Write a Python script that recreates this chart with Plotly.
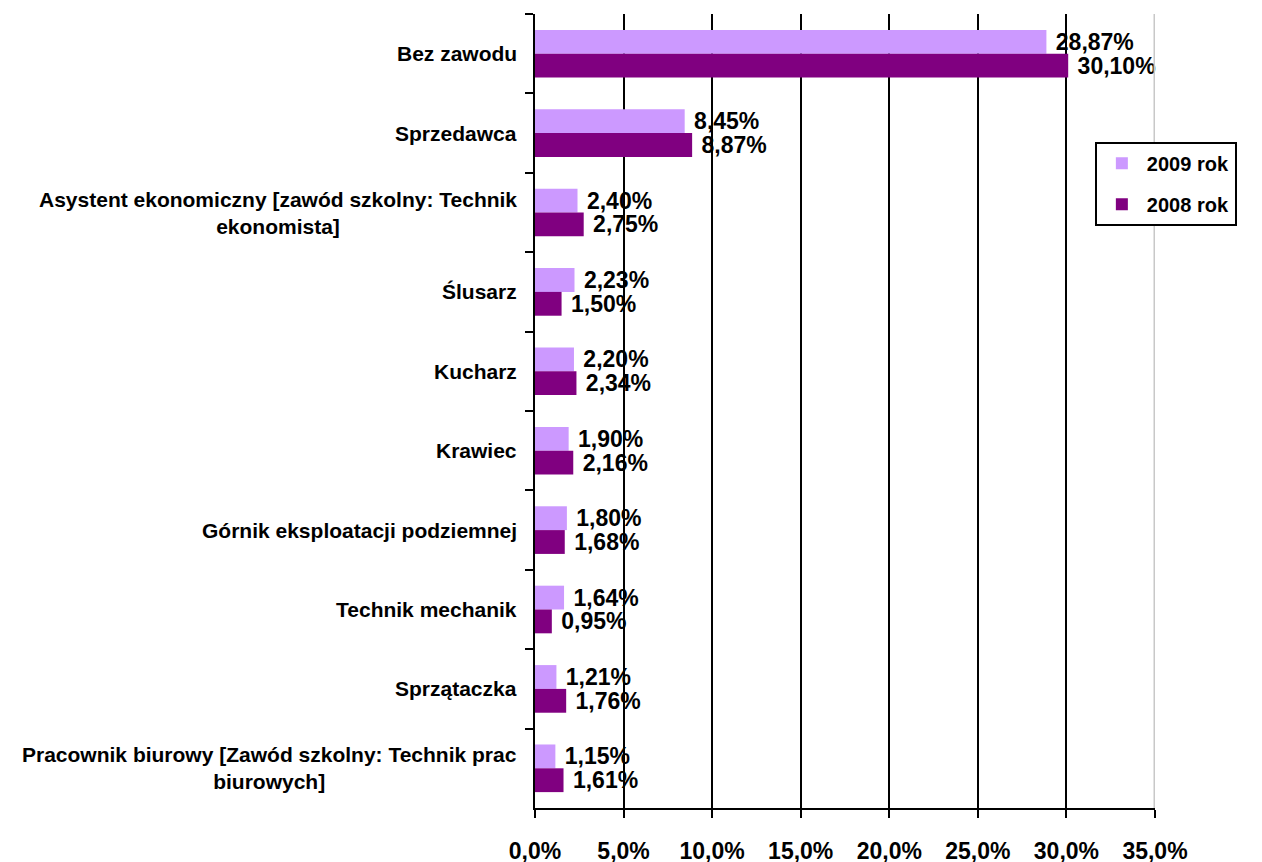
import plotly.graph_objects as go

categories = [
    "Bez zawodu",
    "Sprzedawca",
    "Asystent ekonomiczny [zawód szkolny: Technik<br>ekonomista]",
    "Ślusarz",
    "Kucharz",
    "Krawiec",
    "Górnik eksploatacji podziemnej",
    "Technik mechanik",
    "Sprzątaczka",
    "Pracownik biurowy [Zawód szkolny: Technik prac<br>biurowych]",
]
values_2009 = [28.87, 8.45, 2.40, 2.23, 2.20, 1.90, 1.80, 1.64, 1.21, 1.15]
values_2008 = [30.10, 8.87, 2.75, 1.50, 2.34, 2.16, 1.68, 0.95, 1.76, 1.61]
series_names = ["2009 rok", "2008 rok"]
x_ticks = [0, 5, 10, 15, 20, 25, 30, 35]
x_tick_labels = ["0,0%", "5,0%", "10,0%", "15,0%", "20,0%", "25,0%", "30,0%", "35,0%"]

FONT = "Liberation Sans, Arial, sans-serif"
colors = ["#CC99FF", "#800080"]

fig = go.Figure()
for name, vals, col, grp in zip(series_names, [values_2009, values_2008], colors, ["a", "b"]):
    fig.add_trace(go.Bar(
        y=categories, x=vals, name=name, orientation="h",
        marker=dict(color=col, line=dict(width=0)),
        texttemplate="\u00a0%{x:.2f}%", textposition="outside",
        textfont=dict(family=FONT, size=23, color="black", weight="bold"),
        constraintext="none", cliponaxis=False, legendgroup=grp,
    ))

annotations = []
for c in categories:
    annotations.append(dict(
        x=0, xref="paper", y=c, yref="y", text=c, showarrow=False,
        xanchor="right", yanchor="middle", align="center", xshift=-16,
        font=dict(family=FONT, size=21, color="black", weight="bold"),
    ))

fig.update_layout(
    width=1262, height=862,
    margin=dict(l=527, r=115, t=6, b=59),
    paper_bgcolor="white", plot_bgcolor="white",
    separators=", ",
    barmode="group", bargap=0.4, bargroupgap=0,
    showlegend=True,
    legend=dict(
        x=0.903, y=0.839, xanchor="left", yanchor="top",
        bordercolor="black", borderwidth=2, bgcolor="white",
        font=dict(family=FONT, size=20, color="black", weight="bold"),
        tracegroupgap=12, itemwidth=40,
    ),
    annotations=annotations,
    xaxis=dict(
        range=[0, 35], tickvals=x_ticks, ticktext=x_tick_labels,
        showgrid=True, gridcolor="black", gridwidth=2, zeroline=False,
        showline=True, linecolor="black", linewidth=2,
        ticks="outside", ticklen=8, tickwidth=2, tickcolor="black",
        ticklabelstandoff=13,
        tickfont=dict(family=FONT, size=23, color="black", weight="bold"),
    ),
    yaxis=dict(
        autorange="reversed", type="category",
        showticklabels=False, showgrid=False, zeroline=False,
        showline=True, linecolor="black", linewidth=2,
        ticks="outside", tickson="boundaries", ticklen=8, tickwidth=2, tickcolor="black",
    ),
    shapes=[dict(
        type="line", xref="x", yref="paper", x0=x_ticks[-1], x1=x_ticks[-1], y0=0, y1=1,
        line=dict(color="#c8c8c8", width=3), layer="above",
    )],
)

fig.write_html("out.html")
